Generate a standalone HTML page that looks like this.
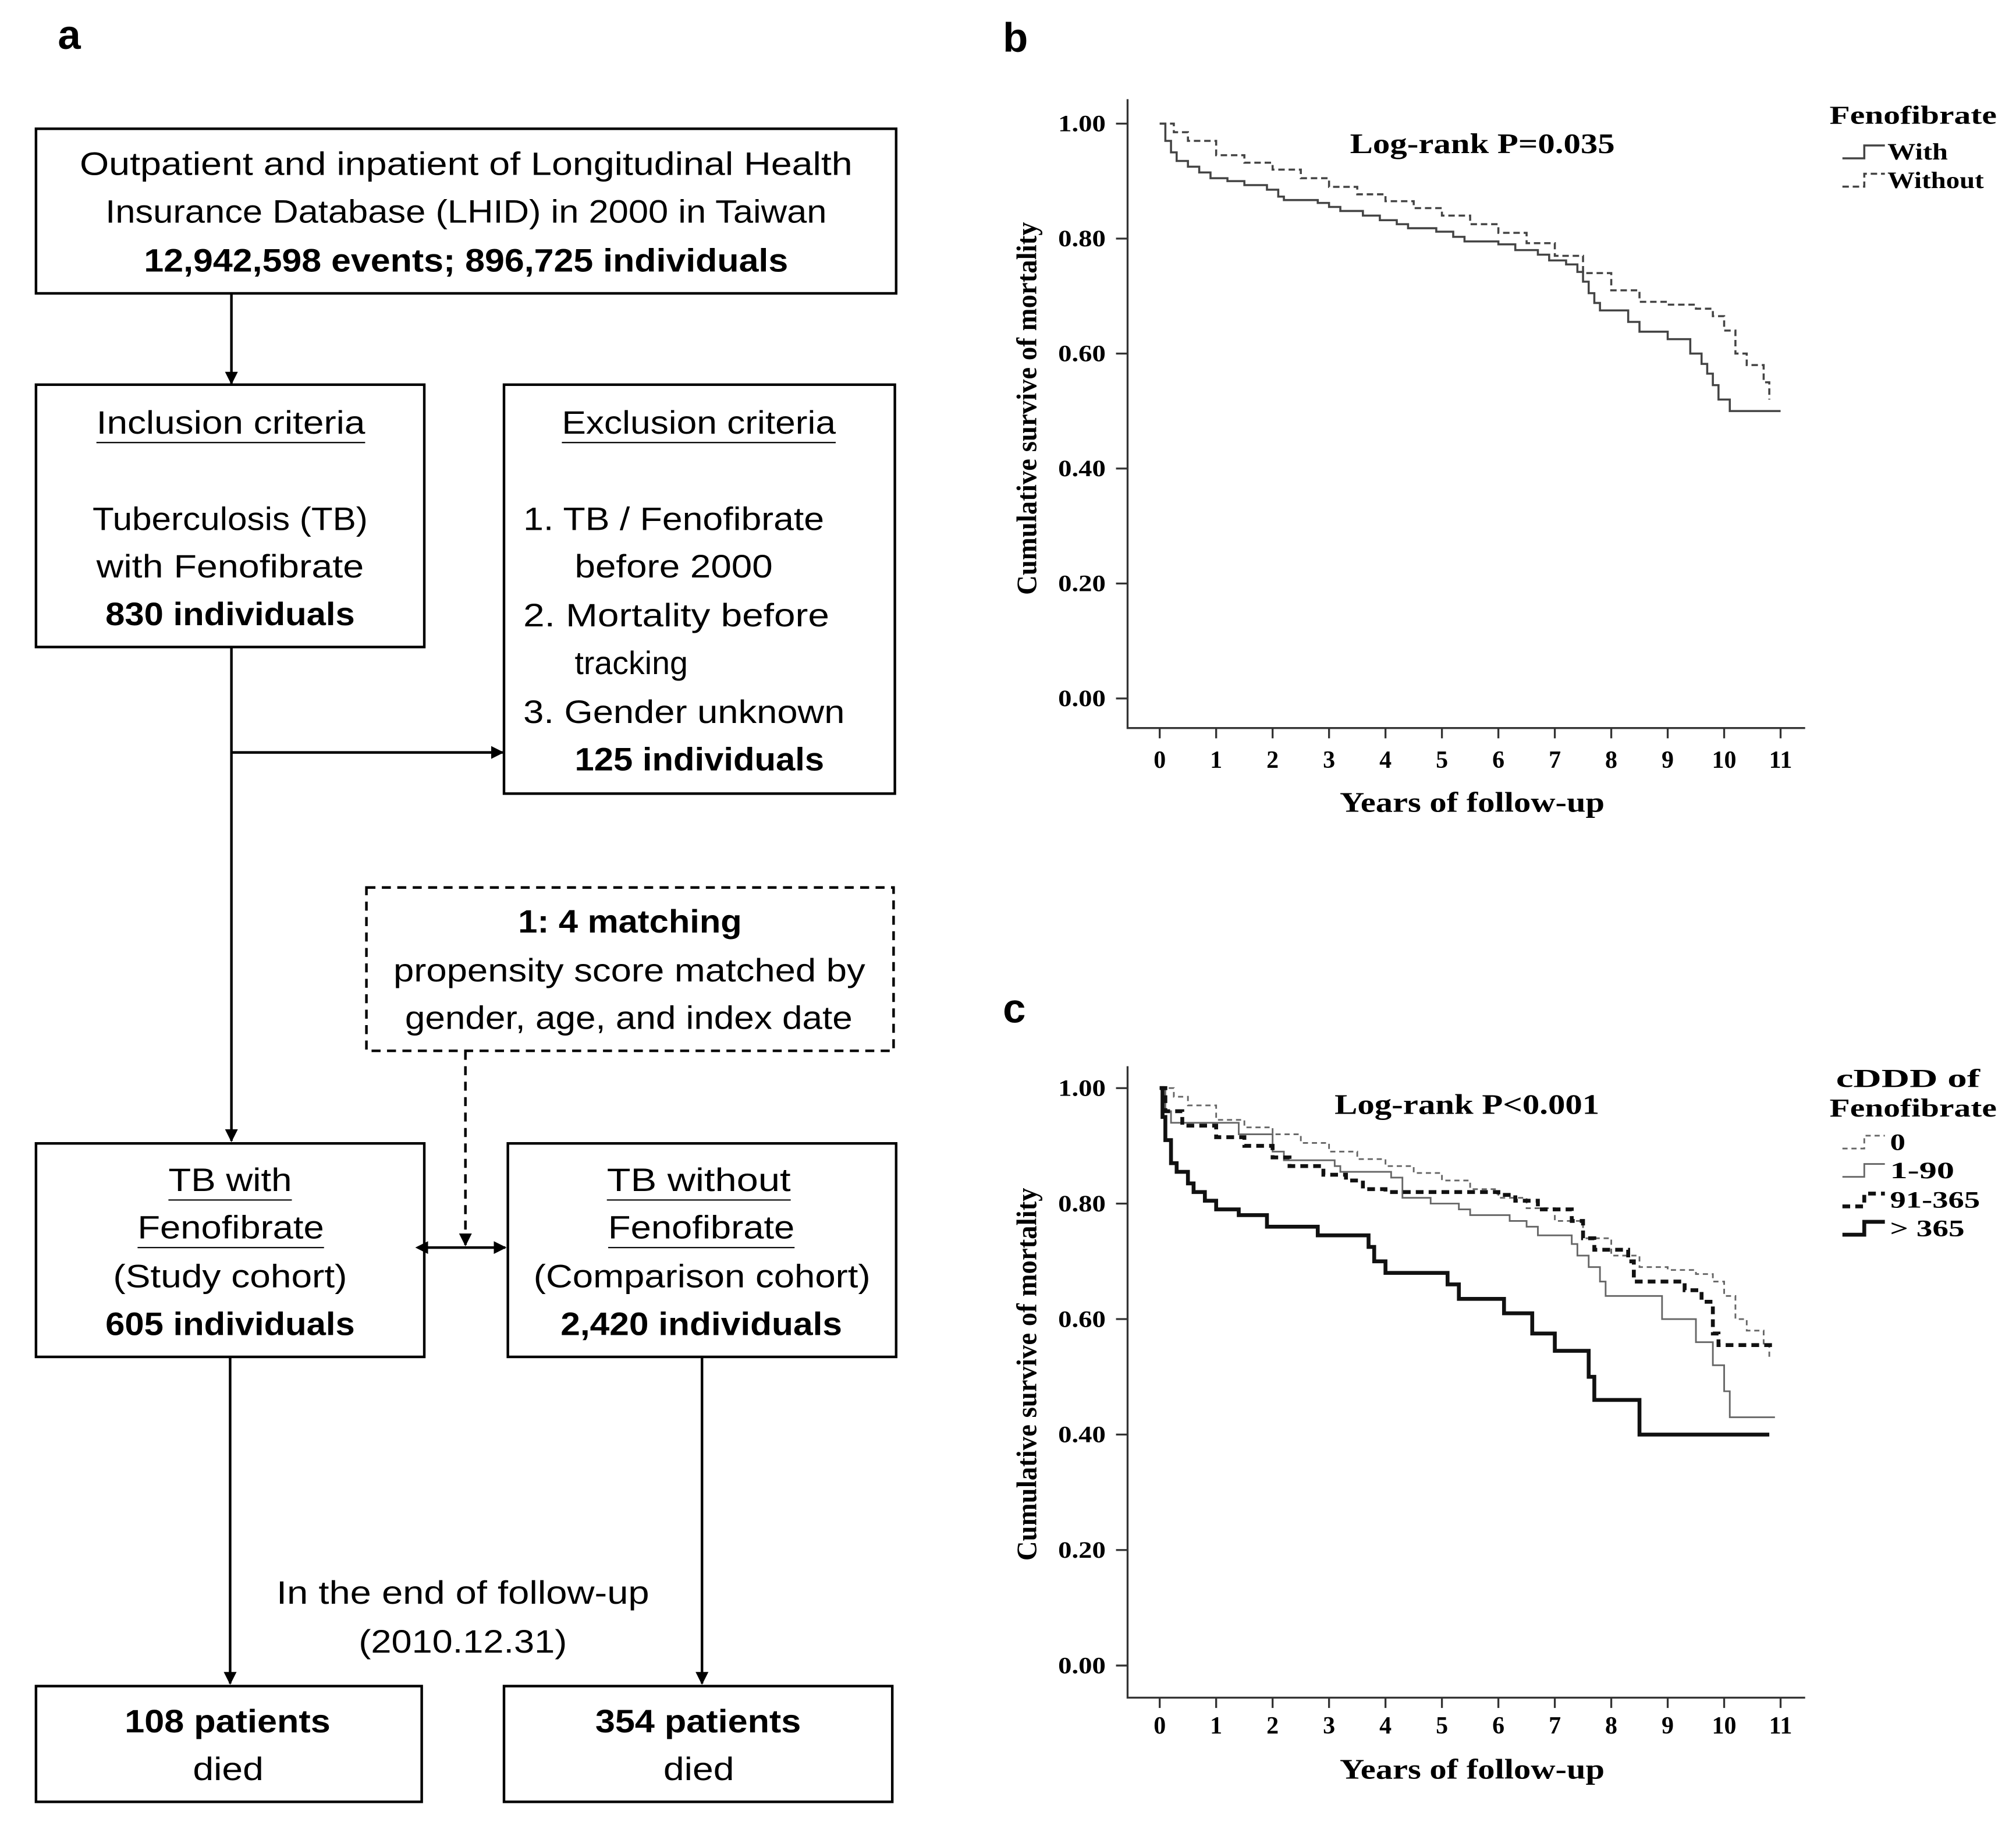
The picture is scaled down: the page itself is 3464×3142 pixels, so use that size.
<!DOCTYPE html>
<html><head><meta charset="utf-8"><style>
html,body{margin:0;padding:0;background:#fff;}
svg{display:block;}
.fc{font-family:"Liberation Sans",sans-serif;font-size:25px;fill:#000;}
.b{font-weight:bold;}
.sf{font-family:"Liberation Serif",serif;font-weight:bold;fill:#000;}
</style></head><body>
<svg id="root" width="3464" height="3142" viewBox="0 0 1568 1422" xmlns="http://www.w3.org/2000/svg">
<defs>
<marker id="ah" markerWidth="10" markerHeight="10" refX="9" refY="5" orient="auto" markerUnits="userSpaceOnUse"><path d="M0,0 L10,5 L0,10 z" fill="#000"/></marker>
<marker id="ahs" markerWidth="10" markerHeight="10" refX="1" refY="5" orient="auto-start-reverse" markerUnits="userSpaceOnUse"><path d="M0,0 L10,5 L0,10 z" fill="#000"/></marker>
</defs>
<text x="45" y="38" class="fc b" style="font-size:32px">a</text>
<text x="780" y="40" class="fc b" style="font-size:32px">b</text>
<text x="780" y="795" class="fc b" style="font-size:32px">c</text>

<g stroke-width="2">
<rect x="28" y="100" width="669" height="128" fill="none" stroke="#000"/>
<text class="fc" x="62" y="136" textLength="601" lengthAdjust="spacingAndGlyphs">Outpatient and inpatient of Longitudinal Health</text>
<text class="fc" x="82" y="173" textLength="561" lengthAdjust="spacingAndGlyphs">Insurance Database (LHID) in 2000 in Taiwan</text>
<text class="fc b" x="112" y="211" textLength="501" lengthAdjust="spacingAndGlyphs">12,942,598 events; 896,725 individuals</text>
<line x1="180" y1="228" x2="180" y2="298" stroke="#000" marker-end="url(#ah)"/>

<rect x="28" y="299" width="302" height="204" fill="none" stroke="#000"/>
<text class="fc" x="75" y="337" textLength="209" lengthAdjust="spacingAndGlyphs">Inclusion criteria</text>
<line x1="75" y1="344" x2="284" y2="344" stroke="#000" stroke-width="1"/>
<text class="fc" x="72" y="412" textLength="214" lengthAdjust="spacingAndGlyphs">Tuberculosis (TB)</text>
<text class="fc" x="75" y="449" textLength="208" lengthAdjust="spacingAndGlyphs">with Fenofibrate</text>
<text class="fc b" x="82" y="486" textLength="194" lengthAdjust="spacingAndGlyphs">830 individuals</text>

<rect x="392" y="299" width="304" height="318" fill="none" stroke="#000"/>
<text class="fc" x="437" y="337" textLength="213" lengthAdjust="spacingAndGlyphs">Exclusion criteria</text>
<line x1="437" y1="344" x2="650" y2="344" stroke="#000" stroke-width="1"/>
<text class="fc" x="407" y="412" textLength="234" lengthAdjust="spacingAndGlyphs">1. TB / Fenofibrate</text>
<text class="fc" x="447" y="449" textLength="154" lengthAdjust="spacingAndGlyphs">before 2000</text>
<text class="fc" x="407" y="487" textLength="238" lengthAdjust="spacingAndGlyphs">2. Mortality before</text>
<text class="fc" x="447" y="524" textLength="88" lengthAdjust="spacingAndGlyphs">tracking</text>
<text class="fc" x="407" y="562" textLength="250" lengthAdjust="spacingAndGlyphs">3. Gender unknown</text>
<text class="fc b" x="447" y="599" textLength="194" lengthAdjust="spacingAndGlyphs">125 individuals</text>

<line x1="180" y1="503" x2="180" y2="887" stroke="#000" marker-end="url(#ah)"/>
<line x1="180" y1="585" x2="391" y2="585" stroke="#000" marker-end="url(#ah)"/>

<rect x="285" y="690" width="410" height="127" fill="none" stroke="#000" stroke-dasharray="7,5"/>
<text class="fc b" x="403" y="725" textLength="174" lengthAdjust="spacingAndGlyphs">1: 4 matching</text>
<text class="fc" x="306" y="763" textLength="367" lengthAdjust="spacingAndGlyphs">propensity score matched by</text>
<text class="fc" x="315" y="800" textLength="348" lengthAdjust="spacingAndGlyphs">gender, age, and index date</text>
<line x1="362" y1="817" x2="362" y2="968" stroke="#000" stroke-dasharray="7,5" marker-end="url(#ah)"/>
<line x1="332" y1="970" x2="393" y2="970" stroke="#000" marker-start="url(#ahs)" marker-end="url(#ah)"/>

<rect x="28" y="889" width="302" height="166" fill="none" stroke="#000"/>
<text class="fc" x="131" y="926" textLength="96" lengthAdjust="spacingAndGlyphs">TB with</text>
<line x1="131" y1="933" x2="227" y2="933" stroke="#000" stroke-width="1"/>
<text class="fc" x="107" y="963" textLength="145" lengthAdjust="spacingAndGlyphs">Fenofibrate</text>
<line x1="107" y1="970" x2="252" y2="970" stroke="#000" stroke-width="1"/>
<text class="fc" x="88" y="1001" textLength="182" lengthAdjust="spacingAndGlyphs">(Study cohort)</text>
<text class="fc b" x="82" y="1038" textLength="194" lengthAdjust="spacingAndGlyphs">605 individuals</text>

<rect x="395" y="889" width="302" height="166" fill="none" stroke="#000"/>
<text class="fc" x="472" y="926" textLength="143" lengthAdjust="spacingAndGlyphs">TB without</text>
<line x1="472" y1="933" x2="615" y2="933" stroke="#000" stroke-width="1"/>
<text class="fc" x="473" y="963" textLength="145" lengthAdjust="spacingAndGlyphs">Fenofibrate</text>
<line x1="473" y1="970" x2="618" y2="970" stroke="#000" stroke-width="1"/>
<text class="fc" x="415" y="1001" textLength="262" lengthAdjust="spacingAndGlyphs">(Comparison cohort)</text>
<text class="fc b" x="436" y="1038" textLength="219" lengthAdjust="spacingAndGlyphs">2,420 individuals</text>

<line x1="179" y1="1055" x2="179" y2="1309" stroke="#000" marker-end="url(#ah)"/>
<line x1="546" y1="1055" x2="546" y2="1309" stroke="#000" marker-end="url(#ah)"/>
<text class="fc" x="215" y="1247" textLength="290" lengthAdjust="spacingAndGlyphs">In the end of follow-up</text>
<text class="fc" x="279" y="1285" textLength="162" lengthAdjust="spacingAndGlyphs">(2010.12.31)</text>

<rect x="28" y="1311" width="300" height="90" fill="none" stroke="#000"/>
<text class="fc b" x="97" y="1347" textLength="160" lengthAdjust="spacingAndGlyphs">108 patients</text>
<text class="fc" x="150" y="1384" textLength="55" lengthAdjust="spacingAndGlyphs">died</text>
<rect x="392" y="1311" width="302" height="90" fill="none" stroke="#000"/>
<text class="fc b" x="463" y="1347" textLength="160" lengthAdjust="spacingAndGlyphs">354 patients</text>
<text class="fc" x="516" y="1384" textLength="55" lengthAdjust="spacingAndGlyphs">died</text>
</g>

<g id="chartB"></g>
<g id="chartC"></g>
</svg>
<script>
const xTicks = [0,1,2,3,4,5,6,7,8,9,10,11];
const yTicks = [0,0.2,0.4,0.6,0.8,1.0];
// Panel b
const bWithT = [0,0.1,0.2,0.3,0.5,0.7,0.9,1.2,1.5,1.9,2.1,2.2,2.8,3.0,3.2,3.6,3.9,4.2,4.4,4.9,5.2,5.4,6.0,6.3,6.7,6.9,7.2,7.4,7.5,7.6,7.7,7.8,8.3,8.5,9.0,9.4,9.6,9.7,9.8,9.9,10.1,11.0];
const bWithS = [1.0,0.97,0.95,0.935,0.925,0.915,0.905,0.9,0.893,0.885,0.873,0.867,0.862,0.855,0.848,0.84,0.832,0.825,0.818,0.812,0.803,0.795,0.79,0.78,0.772,0.762,0.755,0.742,0.725,0.705,0.688,0.675,0.655,0.638,0.625,0.6,0.582,0.565,0.545,0.52,0.5,0.5];
const bWithoutT = [0,0.25,0.5,1,1.5,2,2.5,3,3.5,4,4.5,5,5.5,6,6.5,7,7.5,8,8.5,9,9.5,9.8,10.0,10.2,10.4,10.7,10.8];
const bWithoutS = [1.0,0.985,0.97,0.945,0.932,0.92,0.905,0.89,0.877,0.865,0.853,0.84,0.825,0.81,0.792,0.77,0.74,0.71,0.69,0.685,0.678,0.665,0.64,0.6,0.58,0.55,0.52];
// Panel c
const c0T = [0,0.25,0.5,1,1.5,2,2.5,3,3.5,4,4.5,5,5.5,6,6.5,7,7.5,8,8.5,9,9.5,9.8,10.0,10.2,10.4,10.7,10.8];
const c0S = [1.0,0.985,0.97,0.945,0.932,0.92,0.905,0.89,0.877,0.865,0.853,0.84,0.825,0.81,0.792,0.77,0.74,0.71,0.69,0.685,0.678,0.665,0.64,0.6,0.58,0.555,0.53];
const c1T = [0,0.1,0.2,1.4,2.0,2.2,3.1,3.2,4.1,4.3,4.8,5.3,5.5,6.2,6.5,6.7,7.3,7.4,7.6,7.8,7.9,8.9,9.5,9.8,10.0,10.1,10.9];
const c1S = [1.0,0.96,0.94,0.92,0.89,0.875,0.865,0.855,0.845,0.81,0.8,0.79,0.78,0.77,0.76,0.745,0.73,0.71,0.69,0.665,0.64,0.6,0.56,0.52,0.475,0.43,0.43];
const c2T = [0,0.1,0.4,1.0,1.5,2.0,2.3,2.9,3.3,3.6,4.0,6.0,6.3,6.7,7.3,7.5,7.7,8.3,8.4,9.3,9.6,9.8,9.9,10.9];
const c2S = [1.0,0.96,0.935,0.915,0.9,0.88,0.865,0.85,0.84,0.825,0.82,0.815,0.805,0.79,0.77,0.74,0.72,0.70,0.665,0.65,0.63,0.575,0.555,0.555];
const c3T = [0,0.05,0.1,0.2,0.3,0.5,0.6,0.8,1.0,1.4,1.9,2.8,3.7,3.8,4.0,5.1,5.3,6.1,6.6,7.0,7.6,7.7,8.5,10.8];
const c3S = [1.0,0.95,0.91,0.87,0.855,0.835,0.82,0.805,0.79,0.78,0.76,0.745,0.725,0.70,0.68,0.66,0.635,0.61,0.575,0.545,0.5,0.46,0.40,0.40];

const NS='http://www.w3.org/2000/svg';
function mk(tag, attrs, parent){const e=document.createElementNS(NS,tag);for(const k in attrs)e.setAttribute(k,attrs[k]);parent.appendChild(e);return e;}

function drawChart(g, top, y1, y0, axBottom, tickY, titleY, logText, logX, logY){
  const xS = t => 902 + 43.9*t;
  const yS = s => y0 - (y0-y1)*s;
  const ax = mk('path',{d:`M877,${top} V${axBottom} H1404`,fill:'none',stroke:'#333','stroke-width':1.5},g);
  
  
  yTicks.forEach(v=>{
    const l=mk('line',{x1:868,x2:877,y1:yS(v),y2:yS(v),stroke:'#333','stroke-width':1.5},g);
    
    
    const t=mk('text',{x:860,y:yS(v)+6,'text-anchor':'end',class:'sf',style:'font-size:18px',textLength:37,lengthAdjust:'spacingAndGlyphs'},g);
    t.textContent=v.toFixed(2);
    
    
  });
  xTicks.forEach(v=>{
    const l=mk('line',{x1:xS(v),x2:xS(v),y1:axBottom,y2:axBottom+8,stroke:'#333','stroke-width':1.5},g);
    
    
    const t=mk('text',{x:xS(v),y:tickY+7,'text-anchor':'middle',class:'sf',style:'font-size:19px'},g);
    t.textContent=v;
    
    
  });
  const xt=mk('text',{x:1042,y:titleY+8,class:'sf',style:'font-size:22px',textLength:206,lengthAdjust:'spacingAndGlyphs'},g);
  xt.textContent='Years of follow-up';
  
  
  const cy=(y1+y0)/2-2;
  const yt=mk('text',{x:-145,y:0,class:'sf',style:'font-size:22px',textLength:290,lengthAdjust:'spacingAndGlyphs',transform:`translate(806,${cy}) rotate(-90)`},g);
  yt.textContent='Cumulative survive of mortality';
  
  
  const lt=mk('text',{x:logX-103,y:logY+8,class:'sf',style:'font-size:22px',textLength:206,lengthAdjust:'spacingAndGlyphs'},g);
  lt.textContent=logText;
  
  
  return {xS,yS};
}
function stepPath(T,S,xS,yS){
  let d=`M${xS(T[0])},${yS(S[0])}`;
  for(let i=1;i<T.length;i++){d+=` H${xS(T[i])} V${yS(S[i])}`;}
  return d;
}
function series(g,T,S,sc,style,name){
  const p=mk('path',Object.assign({d:stepPath(T,S,sc.xS,sc.yS),fill:'none'},style),g);
  
  
}
function legText(g,x,y,txt,size,len){
  const t=mk('text',{x:x,y:y,class:'sf',style:`font-size:${size}px`,textLength:len,lengthAdjust:'spacingAndGlyphs'},g);
  t.textContent=txt;
  
  
}
function legSym(g,y,style){
  const p=mk('path',Object.assign({d:`M1433,${y+5} H1450 V${y-5} H1466`,fill:'none'},style),g);
  
  
}

const gB=document.getElementById('chartB');
const sb=drawChart(gB,77,96,543,566,590,623,'Log-rank P=0.035',1153,111);
const solidB={stroke:'#444','stroke-width':1.6};
const dashB={stroke:'#444','stroke-width':1.6,'stroke-dasharray':'5,3'};
series(gB,bWithoutT,bWithoutS,sb,dashB,'series-without');
series(gB,bWithT,bWithS,sb,solidB,'series-with');
legText(gB,1423,96,'Fenofibrate',20,130);
legSym(gB,118,solidB); legText(gB,1468,124,'With',18,47);
legSym(gB,140,dashB); legText(gB,1468,146,'Without',18,75);

const gC=document.getElementById('chartC');
const sc=drawChart(gC,829,846,1295,1320,1341,1375,'Log-rank P<0.001',1141,858);
const st0={stroke:'#666','stroke-width':1.3,'stroke-dasharray':'4,3'};
const st1={stroke:'#666','stroke-width':1.3};
const st2={stroke:'#111','stroke-width':3,'stroke-dasharray':'6,4'};
const st3={stroke:'#111','stroke-width':3};
series(gC,c0T,c0S,sc,st0,'series-0');
series(gC,c1T,c1S,sc,st1,'series-1-90');
series(gC,c2T,c2S,sc,st2,'series-91-365');
series(gC,c3T,c3S,sc,st3,'series-gt-365');
legText(gC,1428,845,'cDDD of',20,112);
legText(gC,1423,868,'Fenofibrate',20,130);
const legY=[888,910,933,955], legL=['0','1-90','91-365','> 365'], legW=[12,50,70,58], legS=[st0,st1,st2,st3];
legY.forEach((y,i)=>{legSym(gC,y,legS[i]);legText(gC,1470,y+6,legL[i],18,legW[i]);});
</script>
</body></html>
